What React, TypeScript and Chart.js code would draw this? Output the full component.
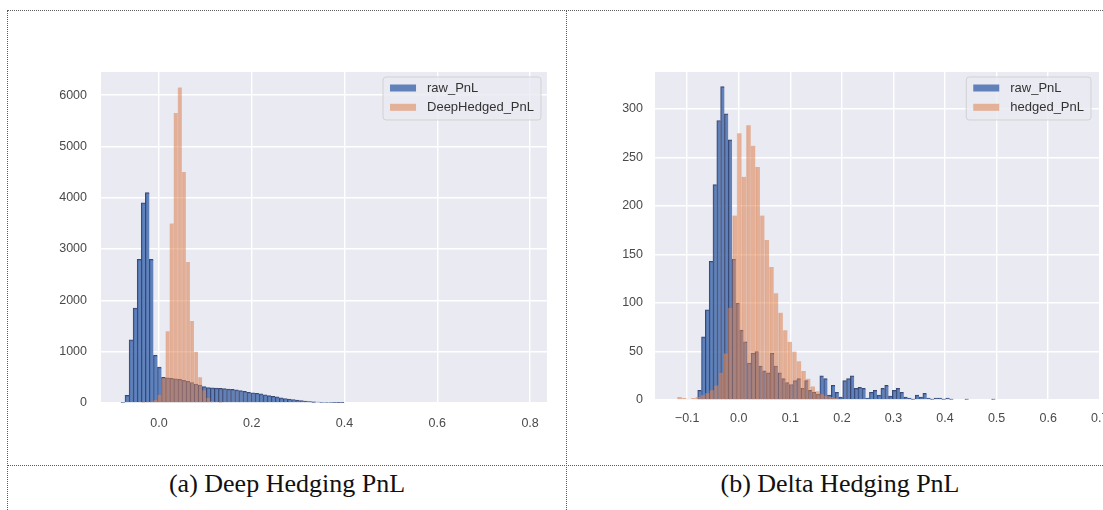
import React, { useEffect, useRef } from "react";
import { Chart, registerables } from "chart.js";

Chart.register(...registerables);

// ---------- Panel (a): Deep Hedging PnL ----------
const deepRawBins = [
  -0.0776, -0.0689, -0.0601, -0.0514, -0.0426, -0.0339, -0.0251, -0.0164, -0.0076, 0.0011,
  0.0099, 0.0186, 0.0274, 0.0361, 0.0449, 0.0536, 0.0624, 0.0711, 0.0799, 0.0886,
  0.0974, 0.1061, 0.1149, 0.1236, 0.1324, 0.1411, 0.1499, 0.1586, 0.1674, 0.1761,
  0.1849, 0.1936, 0.2024, 0.2111, 0.2199, 0.2286, 0.2374, 0.2461, 0.2549, 0.2636,
  0.2724, 0.2811, 0.2899, 0.2986, 0.3074, 0.3161, 0.3249, 0.3336, 0.3424, 0.3511,
  0.3599, 0.3686, 0.3774, 0.3861, 0.3949,
];
const deepRawCounts = [
  15, 150, 1230, 1850, 2800, 3900, 4100, 2800, 930, 700,
  500, 490, 480, 470, 460, 440, 420, 400, 370, 350,
  320, 300, 295, 290, 285, 280, 270, 265, 255, 240,
  225, 210, 200, 190, 178, 160, 145, 130, 118, 100,
  88, 78, 68, 55, 45, 38, 30, 24, 20, 15,
  12, 10, 7, 4, 3,
];
const deepHedgedBins = [
  -0.0339, -0.0251, -0.0164, -0.0076, 0.0011, 0.0099, 0.0186, 0.0274, 0.0361, 0.0449,
  0.0536, 0.0624, 0.0711, 0.0799, 0.0886, 0.0974, 0.1061, 0.1149, 0.1236, 0.1324,
];
const deepHedgedCounts = [
  5, 10, 30, 60, 160, 480, 1400, 3500, 5650, 6150,
  4500, 2750, 1600, 1000, 500, 250, 100, 40, 15, 5,
];
const deepXTicks = [0, 0.2, 0.4, 0.6, 0.8];
const deepYTicks = [0, 1000, 2000, 3000, 4000, 5000, 6000];

// ---------- Panel (b): Delta Hedging PnL ----------
const deltaRawBins = [
  -0.0759, -0.0685, -0.0611, -0.0537, -0.0463, -0.0389, -0.0315, -0.0241, -0.0167, -0.0093,
  -0.0019, 0.0055, 0.0129, 0.0203, 0.0277, 0.0351, 0.0425, 0.0499, 0.0573, 0.0647,
  0.0721, 0.0795, 0.0869, 0.0943, 0.1017, 0.1091, 0.1165, 0.1239, 0.1313, 0.1387,
  0.1461, 0.1535, 0.1609, 0.1683, 0.1757, 0.1831, 0.1905, 0.1979, 0.2053, 0.2127,
  0.2201, 0.2275, 0.2349, 0.2423, 0.2497, 0.2571, 0.2645, 0.2719, 0.2793, 0.2867,
  0.2941, 0.3015, 0.3089, 0.3163, 0.3237, 0.3311, 0.3385, 0.3459, 0.3533, 0.3607,
  0.3681, 0.3755, 0.3829, 0.3903, 0.3977, 0.4051, 0.4125, 0.4421, 0.4939,
];
const deltaRawCounts = [
  10, 65, 93, 143, 222, 288, 323, 295, 268, 145,
  100, 72, 60, 38, 48, 50, 35, 30, 28, 48,
  35, 28, 22, 18, 16, 20, 22, 12, 20, 10,
  8, 6, 25, 22, 5, 15, 8, 3, 20, 22,
  25, 12, 13, 12, 2, 8, 10, 5, 12, 15,
  4, 10, 12, 8, 3, 2, 1, 5, 3, 7,
  2, 1, 2, 2, 1, 2, 1, 1, 1,
];
const deltaHedgedBins = [
  -0.1147, -0.1058, -0.0969, -0.088, -0.0791, -0.0702, -0.0613, -0.0524, -0.0435, -0.0346,
  -0.0257, -0.0168, -0.0079, 0.001, 0.0099, 0.0188, 0.0277, 0.0366, 0.0455, 0.0544,
  0.0633, 0.0722, 0.0811, 0.09, 0.0989, 0.1078, 0.1167, 0.1256, 0.1345, 0.1434,
  0.1523, 0.1612, 0.1701, 0.179, 0.1879, 0.1968,
];
const deltaHedgedCounts = [
  3, 2, 1, 2, 3, 5, 7, 10, 15, 28,
  48, 95, 190, 275, 230, 283, 262, 240, 190, 165,
  137, 110, 90, 72, 60, 50, 40, 30, 22, 14,
  9, 6, 4, 3, 2, 1,
];
const deltaXTicks = [-0.1, 0, 0.1, 0.2, 0.3, 0.4, 0.5, 0.6, 0.7];
const deltaYTicks = [0, 50, 100, 150, 200, 250, 300];

const captionA = "(a) Deep Hedging PnL";
const captionB = "(b) Delta Hedging PnL";
const rawLabel = "raw_PnL";
const deepLabel = "DeepHedged_PnL";
const deltaLabel = "hedged_PnL";

// ---------- styles ----------
const PLOT_BG = "#EAEAF2";
const BLUE_FILL = "rgba(76,114,176,0.88)";
const BLUE_EDGE = "rgba(28,44,92,0.85)";
const ORANGE_FILL = "rgba(221,132,82,0.57)";
const ORANGE_EDGE = "rgba(214,120,70,0.3)";
const TICK_FONT = { family: '"Liberation Sans", Arial, sans-serif', size: 12.5 };
const TICK_COLOR = "#4a4a4a";

const bgPlugin = {
  id: "plotBg",
  beforeDraw(chart: any) {
    const { ctx, chartArea } = chart;
    ctx.save();
    ctx.fillStyle = PLOT_BG;
    ctx.fillRect(chartArea.left, chartArea.top, chartArea.right - chartArea.left, chartArea.bottom - chartArea.top);
    ctx.restore();
  },
};

const legendPlugin = {
  id: "mplLegend",
  afterDraw(chart: any, _args: any, opts: any) {
    const { ctx, chartArea } = chart;
    const ds = chart.data.datasets;
    ctx.save();
    ctx.font = '13px "Liberation Sans", Arial, sans-serif';
    const textW = Math.max(...ds.map((d: any) => ctx.measureText(d.label).width));
    const boxW = 7 + 26 + 11 + textW + 7;
    const boxH = 43;
    const x = chartArea.right - (opts.inset || 7) - boxW;
    const y = chartArea.top + 5;
    const r = 3;
    ctx.beginPath();
    ctx.moveTo(x + r, y);
    ctx.lineTo(x + boxW - r, y);
    ctx.quadraticCurveTo(x + boxW, y, x + boxW, y + r);
    ctx.lineTo(x + boxW, y + boxH - r);
    ctx.quadraticCurveTo(x + boxW, y + boxH, x + boxW - r, y + boxH);
    ctx.lineTo(x + r, y + boxH);
    ctx.quadraticCurveTo(x, y + boxH, x, y + boxH - r);
    ctx.lineTo(x, y + r);
    ctx.quadraticCurveTo(x, y, x + r, y);
    ctx.closePath();
    ctx.fillStyle = "rgba(234,234,242,0.8)";
    ctx.fill();
    ctx.strokeStyle = "rgba(204,204,204,0.8)";
    ctx.lineWidth = 1;
    ctx.stroke();
    ds.forEach((d: any, i: number) => {
      const cy = y + 11 + i * 19.3;
      ctx.fillStyle = d.backgroundColor;
      ctx.fillRect(x + 7, cy - 3.5, 26, 7);
      ctx.fillStyle = "#333";
      ctx.textBaseline = "middle";
      ctx.textAlign = "left";
      ctx.fillText(d.label, x + 44, cy);
    });
    ctx.restore();
  },
};

type PanelProps = {
  left: number;
  width: number;
  height: number;
  padding: { left: number; right: number; top: number; bottom: number };
  xMin: number;
  xMax: number;
  xTicks: number[];
  yMax: number;
  yTicks: number[];
  rawBins: number[];
  rawCounts: number[];
  hedgedBins: number[];
  hedgedCounts: number[];
  hedgedLabel: string;
  xPad: number;
  yPad: number;
  legendInset: number;
};

function HistPanel(p: PanelProps) {
  const ref = useRef<HTMLCanvasElement | null>(null);
  useEffect(() => {
    if (!ref.current) return;
    const raw = p.rawBins.map((x, i) => ({ x, y: p.rawCounts[i] }));
    const hedged = p.hedgedBins.map((x, i) => ({ x, y: p.hedgedCounts[i] }));
    const setXTicks = (axis: any) => {
      axis.ticks = p.xTicks.map((v) => ({ value: v }));
    };
    const setYTicks = (axis: any) => {
      axis.ticks = p.yTicks.map((v) => ({ value: v }));
    };
    const xCommon = {
      type: "linear" as const,
      min: p.xMin,
      max: p.xMax,
      offset: false,
      afterBuildTicks: setXTicks,
    };
    const chart = new Chart(ref.current, {
      type: "bar",
      data: {
        datasets: [
          {
            label: rawLabel,
            data: raw,
            xAxisID: "x",
            order: 2,
            backgroundColor: BLUE_FILL,
            borderColor: BLUE_EDGE,
            borderWidth: { left: 1, top: 1, right: 0, bottom: 0 },
            borderSkipped: false,
            grouped: false,
            barPercentage: 1,
            categoryPercentage: 1,
          } as any,
          {
            label: p.hedgedLabel,
            data: hedged,
            xAxisID: "x2",
            order: 1,
            backgroundColor: ORANGE_FILL,
            borderColor: ORANGE_EDGE,
            borderWidth: { left: 1, top: 0, right: 0, bottom: 0 },
            borderSkipped: false,
            grouped: false,
            barPercentage: 1,
            categoryPercentage: 1,
          } as any,
        ],
      },
      options: {
        responsive: false,
        animation: false,
        devicePixelRatio: 1,
        layout: { padding: p.padding },
        plugins: {
          legend: { display: false },
          tooltip: { enabled: false },
          mplLegend: { inset: p.legendInset },
        } as any,
        scales: {
          x: {
            ...xCommon,
            afterFit: (s: any) => {
              s.height = 30;
            },
            grid: { color: "#ffffff", lineWidth: 1.4, drawTicks: false, offset: false },
            border: { display: false },
            ticks: {
              padding: p.xPad,
              color: TICK_COLOR,
              font: TICK_FONT,
              maxRotation: 0,
              autoSkip: false,
              callback: (v: any) => {
                const n = Number(v);
                const s = Math.abs(n).toFixed(1);
                return n < -1e-9 ? "\u2212" + s : s;
              },
            },
          },
          x2: { ...xCommon, display: false },
          y: {
            type: "linear",
            min: 0,
            max: p.yMax,
            afterBuildTicks: setYTicks,
            afterFit: (s: any) => {
              s.width = 50;
            },
            grid: { color: "#ffffff", lineWidth: 1.4, drawTicks: false },
            border: { display: false },
            ticks: {
              padding: p.yPad,
              color: TICK_COLOR,
              font: TICK_FONT,
              callback: (v: any) => String(Math.round(Number(v))),
            },
          },
        },
      } as any,
      plugins: [bgPlugin, legendPlugin],
    });
    return () => chart.destroy();
  }, []);
  return (
    <canvas
      ref={ref}
      width={p.width}
      height={p.height}
      style={{ position: "absolute", left: p.left, top: 0, width: p.width, height: p.height }}
    />
  );
}

const dotted = "1px dotted #5a5a5a";

export default function App() {
  return (
    <div
      style={{
        position: "fixed",
        left: 0,
        top: 0,
        width: 1103,
        height: 510,
        overflow: "hidden",
        background: "#ffffff",
      }}
    >
      <HistPanel
        left={0}
        width={560}
        height={465}
        padding={{ left: 51, right: 13, top: 72, bottom: 32 }}
        xMin={-0.125}
        xMax={0.8365}
        xTicks={deepXTicks}
        yMax={6450}
        yTicks={deepYTicks}
        rawBins={deepRawBins}
        rawCounts={deepRawCounts}
        hedgedBins={deepHedgedBins}
        hedgedCounts={deepHedgedCounts}
        hedgedLabel={deepLabel}
        xPad={13}
        yPad={14}
        legendInset={6}
      />
      <HistPanel
        left={566}
        width={574}
        height={465}
        padding={{ left: 39, right: 40, top: 72, bottom: 35 }}
        xMin={-0.1624}
        xMax={0.7005}
        xTicks={deltaXTicks}
        yMax={338}
        yTicks={deltaYTicks}
        rawBins={deltaRawBins}
        rawCounts={deltaRawCounts}
        hedgedBins={deltaHedgedBins}
        hedgedCounts={deltaHedgedCounts}
        hedgedLabel={deltaLabel}
        xPad={11}
        yPad={12}
        legendInset={9}
      />
      <div style={{ position: "absolute", left: 7, top: 10, width: 1200, height: 0, borderTop: dotted }} />
      <div style={{ position: "absolute", left: 7, top: 465, width: 1200, height: 0, borderTop: dotted }} />
      <div style={{ position: "absolute", left: 7, top: 10, width: 0, height: 600, borderLeft: dotted }} />
      <div style={{ position: "absolute", left: 566, top: 10, width: 0, height: 600, borderLeft: dotted }} />
      <div
        style={{
          position: "absolute",
          left: 8,
          top: 469,
          width: 558,
          height: 30,
          lineHeight: "30px",
          textAlign: "center",
          fontFamily: '"Liberation Serif", "Times New Roman", serif',
          fontSize: 26,
          color: "#111",
          whiteSpace: "nowrap",
        }}
      >
        {captionA}
      </div>
      <div
        style={{
          position: "absolute",
          left: 567,
          top: 469,
          width: 546,
          height: 30,
          lineHeight: "30px",
          textAlign: "center",
          fontFamily: '"Liberation Serif", "Times New Roman", serif',
          fontSize: 26,
          color: "#111",
          whiteSpace: "nowrap",
        }}
      >
        {captionB}
      </div>
    </div>
  );
}
